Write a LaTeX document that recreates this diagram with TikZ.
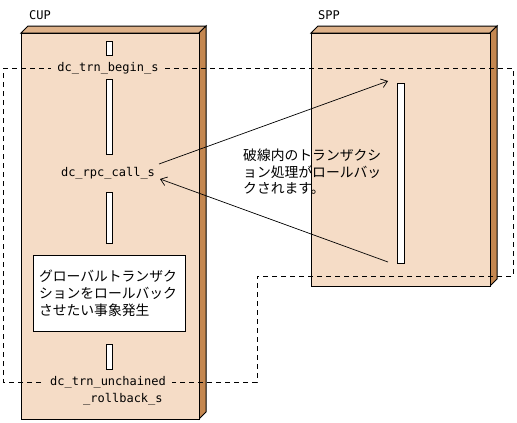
\documentclass[tikz,border=0pt]{standalone}
\usepackage{fontspec}
\setmonofont{DejaVu Sans Mono}
\newfontfamily\jp{Noto Sans CJK JP}
\usetikzlibrary{arrows.meta}
\definecolor{frontc}{RGB}{245,220,198}
\definecolor{topc}{RGB}{222,178,138}
\definecolor{sidec}{RGB}{196,135,80}
\tikzset{
  face/.style={draw=black, line width=1pt, line join=miter},
  barbox/.style={draw=black, fill=white, line width=0.9pt},
  mono/.style={font=\ttfamily\fontsize{12}{17}\selectfont, inner sep=1pt},
  jptext/.style={font=\jp\fontsize{13.8}{17}\selectfont, align=left},
  dashline/.style={dash pattern=on 5pt off 4pt, line width=0.8pt},
  arr/.style={-{Straight Barb[length=6pt,width=9pt]}, line width=0.7pt}
}
\begin{document}
\begin{tikzpicture}[x=1pt,y=-1pt]
\useasboundingbox (0,0) rectangle (517,423);
% CUP box
\filldraw[face, fill=topc] (21,33) -- (28,26) -- (206,26) -- (199,33) -- cycle;
\filldraw[face, fill=sidec] (199,33) -- (206,26) -- (206,412) -- (199,419) -- cycle;
\filldraw[face, fill=frontc] (21,33) rectangle (199,419);
% SPP box
\filldraw[face, fill=topc] (311,33) -- (318,26) -- (497,26) -- (490,33) -- cycle;
\filldraw[face, fill=sidec] (490,33) -- (497,26) -- (497,279) -- (490,286) -- cycle;
\filldraw[face, fill=frontc] (311,33) rectangle (490,286);
% labels
\node[mono, anchor=west] (cup) at (28,15) {CUP};
\node[mono, anchor=west] (spp) at (317,15) {SPP};
% activation bars
\filldraw[barbox] (106,41) rectangle (112,55);
\filldraw[barbox] (106,79) rectangle (112,154);
\filldraw[barbox] (106,192) rectangle (112,243);
\filldraw[barbox] (106,344) rectangle (112,369);
\filldraw[barbox] (397,83) rectangle (404,263);
% dashed transaction boundary
\draw[dashline] (3,68) -- (513,68) -- (513,276) -- (257,276) -- (257,382) -- (3,382) -- cycle;
% call labels
\node[mono, fill=frontc, inner xsep=6pt] (begin) at (108,68) {dc\_trn\_begin\_s};
\node[mono] (rpc) at (108,173) {dc\_rpc\_call\_s};
\node[mono, fill=frontc, inner xsep=6pt, align=left, anchor=west] (unch) at (44,390.5)
  {dc\_trn\_unchained\\\hspace*{33pt}\_rollback\_s};
% event box
\node[draw=black, fill=white, line width=0.9pt, jptext, minimum width=152pt, minimum height=76pt,
      text width=140pt, inner xsep=6pt] (event) at (109,293)
  {グローバルトランザク\\ションをロールバック\\させたい事象発生};
% arrows
\coordinate (rpcout) at (159,164);
\coordinate (rpcin) at (160,179);
\coordinate (sppin) at (388,81);
\coordinate (sppout) at (388,262);
\draw[arr] (rpcout) -- (sppin);
\draw[arr] (sppout) -- (rpcin);
% note
\node[jptext, inner sep=0pt, anchor=west, font=\jp\fontsize{13.8}{16.5}\selectfont] (note) at (243,172)
  {破線内のトランザクシ\\ョン処理がロールバッ\\クされます。};
\end{tikzpicture}
\end{document}
